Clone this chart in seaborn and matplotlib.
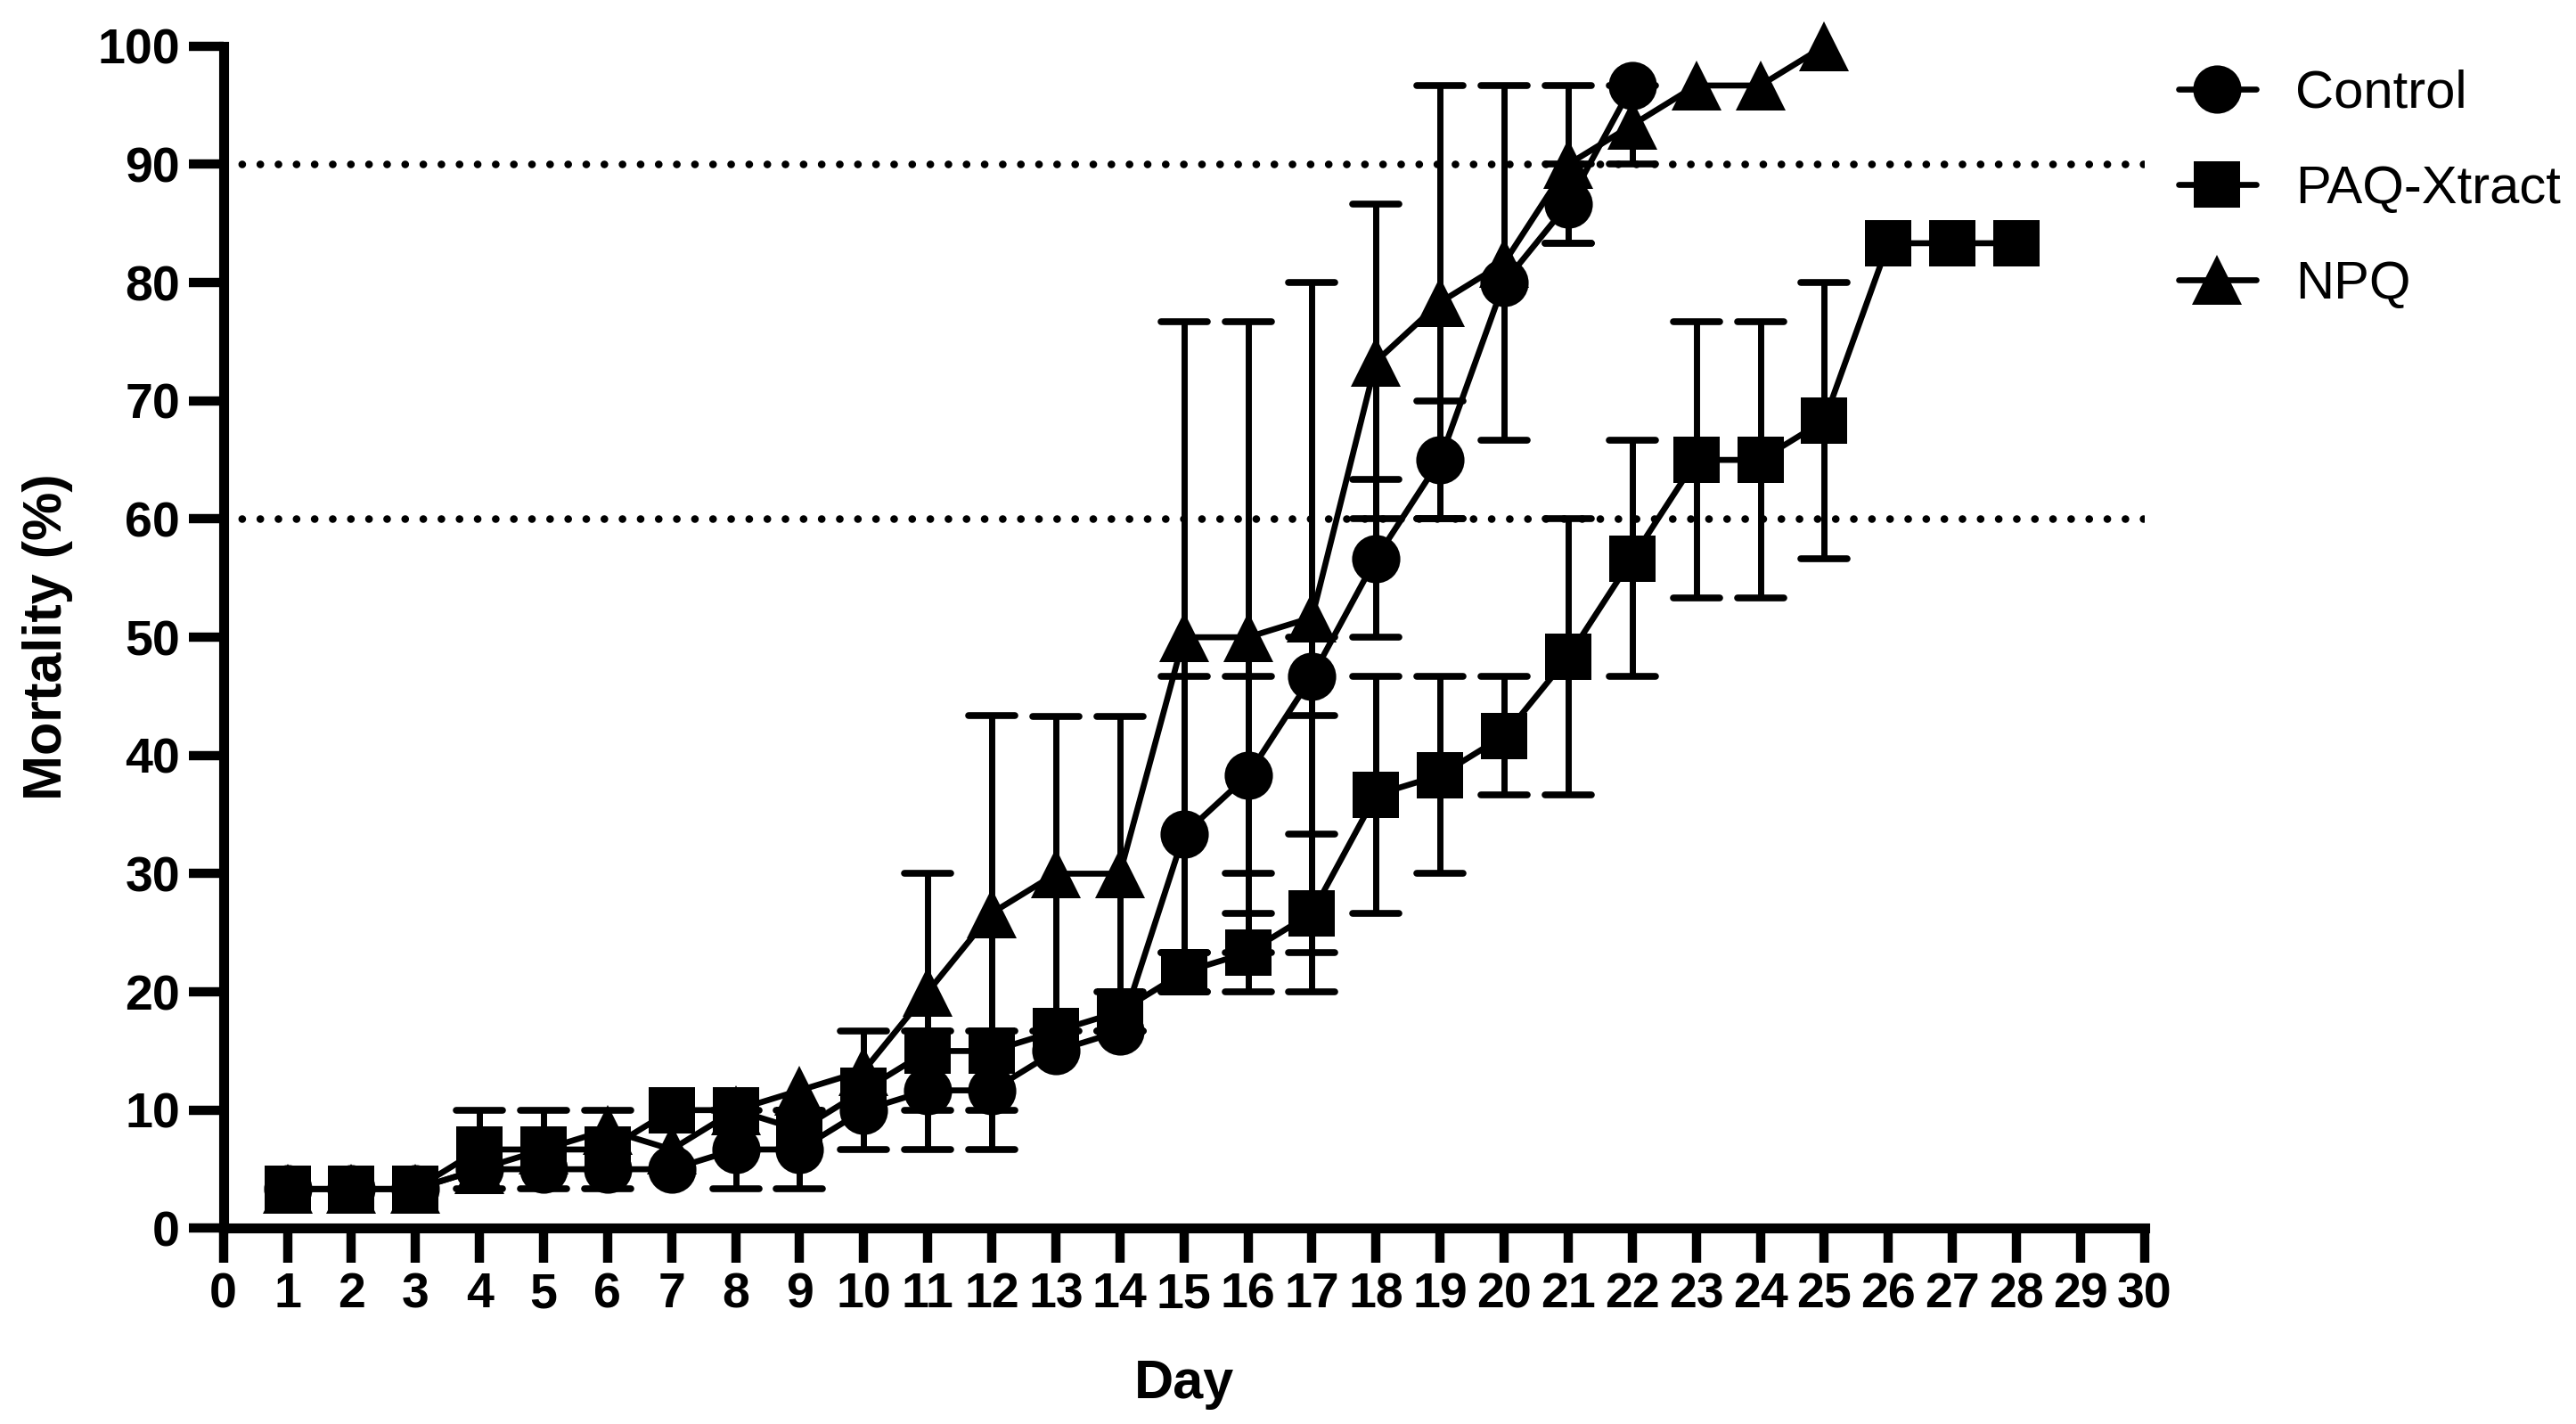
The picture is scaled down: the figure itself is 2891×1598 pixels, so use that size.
import numpy as np
import pandas as pd
import matplotlib
matplotlib.use("Agg")
import matplotlib.pyplot as plt
from matplotlib.markers import MarkerStyle
import seaborn as sns

# mortality (%) per day
control_days = list(range(1, 23))
control_mean = [3.33, 3.33, 3.33, 5, 5, 5, 5, 6.67, 6.67, 10, 11.67, 11.67,
                15, 16.67, 33.33, 38.33, 46.67, 56.67, 65, 80, 86.67, 96.67]
control_sd = [0, 0, 0, 0, 0, 0, 0, 3.33, 3.33, 0, 5, 5,
              0, 0, 13.33, 8.33, 3.33, 6.67, 5, 0, 3.33, 0]

paq_days = list(range(1, 29))
paq_mean = [3.33, 3.33, 3.33, 6.67, 6.67, 6.67, 10, 10, 8.33, 11.67, 15, 15,
            16.67, 18.33, 21.67, 23.33, 26.67, 36.67, 38.33, 41.67, 48.33,
            56.67, 65, 65, 68.33, 83.33, 83.33, 83.33]
paq_sd = [0, 0, 0, 3.33, 3.33, 3.33, 0, 0, 0, 5, 0, 0,
          0, 1.67, 1.67, 3.33, 6.67, 10, 8.33, 5, 11.67,
          10, 11.67, 11.67, 11.67, 0, 0, 0]

npq_days = list(range(1, 26))
npq_mean = [3.33, 3.33, 3.33, 5, 6.67, 8.33, 6.67, 10, 11.67, 13.33, 20, 26.67,
            30, 30, 50, 50, 51.67, 73.33, 78.33, 81.67, 90, 93.33, 96.67,
            96.67, 100]
npq_sd = [0, 0, 0, 0, 0, 0, 0, 0, 0, 0, 10, 16.67,
          13.33, 13.33, 26.67, 26.67, 28.33, 13.33, 18.33, 15, 6.67, 3.33, 0,
          0, 0]

ref_lines = [60, 90]
x_ticks = list(range(0, 31))
y_ticks = list(range(0, 101, 10))

sns.set_style("ticks")
plt.rcParams["font.family"] = ["Liberation Sans", "DejaVu Sans"]
plt.rcParams.update({"text.color": "black", "axes.labelcolor": "black",
                     "xtick.color": "black", "ytick.color": "black",
                     "axes.edgecolor": "black"})

fig = plt.figure(figsize=(28.91, 15.98), dpi=100)
ax = fig.add_axes([0.0867, 0.1374, 0.8325 - 0.0867, 0.9676 - 0.1374])

for y in ref_lines:
    ax.plot([0, 30], [y, y], color="black", linewidth=6.2,
            linestyle=(0, (0.01, 2.35)), dash_capstyle="round", zorder=1)

series = [
    ("Control", control_days, control_mean, control_sd, "o", 39, 4),
    ("PAQ-Xtract", paq_days, paq_mean, paq_sd, "s", 37, 5),
    ("NPQ", npq_days, npq_mean, npq_sd, "^", 40, 3),
]

handles = {}
for name, days, mean, sd, mk, ms, z in series:
    df = pd.DataFrame({"Day": days, "Mortality": mean, "SD": sd})
    sns.lineplot(data=df, x="Day", y="Mortality", ax=ax, color="black",
                 linewidth=4.8, marker=mk, markersize=ms,
                 markeredgecolor="black", markeredgewidth=0, zorder=z,
                 clip_on=False)
    handles[name] = ax.lines[-1]
    err = df[df["SD"] > 0]
    eb = ax.errorbar(err["Day"], err["Mortality"], yerr=err["SD"], fmt="none",
                     ecolor="black", elinewidth=5, capsize=19, capthick=5.5,
                     zorder=z - 0.5)
    for cap in eb[1]:
        cap.set_marker(MarkerStyle("_", capstyle="round"))

ax.set_xlim(0, 30)
ax.set_ylim(0, 100)
ax.set_xticks(x_ticks)
ax.set_yticks(y_ticks)
sns.despine(ax=ax)
for side in ["left", "bottom"]:
    ax.spines[side].set_linewidth(8)
    ax.spines[side].set_capstyle("projecting")
ax.tick_params(axis="both", length=28, width=7.5, labelsize=40, pad=7,
               direction="out")
for lab in ax.get_xticklabels() + ax.get_yticklabels():
    lab.set_fontweight("bold")

ax.set_xlabel("Day", fontsize=44, fontweight="bold", labelpad=33)
ax.set_ylabel("Mortality (%)", fontsize=44, fontweight="bold", labelpad=20)

names = ["Control", "PAQ-Xtract", "NPQ"]
fig.legend(handles=[handles[n] for n in names], labels=names,
           loc="upper left", bbox_to_anchor=(0.8457, 0.9512), frameon=False,
           fontsize=43, handlelength=1.45, handletextpad=0.75,
           labelspacing=0.87, borderpad=0, borderaxespad=0)

fig.savefig("out.png", dpi=100)
